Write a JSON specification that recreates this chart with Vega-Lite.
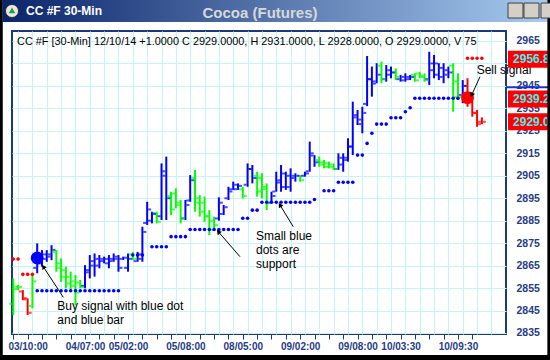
{
  "$schema": "https://vega.github.io/schema/vega-lite/v6.json",
  "width": 494,
  "height": 303,
  "autosize": {"type": "none"},
  "padding": {"left": 12, "top": 31, "right": 44, "bottom": 26},
  "background": "white",
  "config": {"view": {"stroke": "#1C3A7A", "strokeWidth": 2, "fill": "white"}, "font": "Liberation Sans"},
  "resolve": {"axis": {"x": "independent", "y": "independent"}},
  "datasets": {
    "bars": [
      {"i":0,"open":2848,"high":2859.3,"low":2843.0,"close":2855.6,"trend":"pullback"},
      {"i":1,"open":2854.5,"high":2856.4,"low":2854.1,"close":2855.5,"trend":"pullback"},
      {"i":2,"open":2853.5,"high":2854.1,"low":2849.6,"close":2850.5,"trend":"down"},
      {"i":3,"open":2850,"high":2850.4,"low":2843.0,"close":2844,"trend":"down"},
      {"i":4,"open":2847,"high":2860.8,"low":2846.0,"close":2858,"trend":"pullback"},
      {"i":5,"open":2864,"high":2874.9,"low":2861.6,"close":2870,"trend":"up"},
      {"i":6,"open":2866,"high":2871.9,"low":2864.5,"close":2870,"trend":"up"},
      {"i":7,"open":2868,"high":2871.9,"low":2866.7,"close":2870,"trend":"up"},
      {"i":8,"open":2869,"high":2874.1,"low":2867.4,"close":2872,"trend":"up"},
      {"i":9,"open":2871,"high":2871.9,"low":2862.3,"close":2864,"trend":"pullback"},
      {"i":10,"open":2866,"high":2868.2,"low":2857.8,"close":2860,"trend":"pullback"},
      {"i":11,"open":2863,"high":2864.5,"low":2854.9,"close":2857,"trend":"pullback"},
      {"i":12,"open":2860,"high":2862.3,"low":2854.1,"close":2856,"trend":"pullback"},
      {"i":13,"open":2858,"high":2860.8,"low":2847.4,"close":2853,"trend":"pullback"},
      {"i":14,"open":2857.5,"high":2858.6,"low":2854.9,"close":2855.5,"trend":"pullback"},
      {"i":15,"open":2856,"high":2865.2,"low":2854.9,"close":2863,"trend":"up"},
      {"i":16,"open":2862,"high":2869.7,"low":2859.3,"close":2867,"trend":"up"},
      {"i":17,"open":2865,"high":2870.4,"low":2860.1,"close":2868,"trend":"up"},
      {"i":18,"open":2865,"high":2869.7,"low":2863.8,"close":2868,"trend":"up"},
      {"i":19,"open":2867,"high":2869.0,"low":2866.0,"close":2868,"trend":"up"},
      {"i":20,"open":2866,"high":2869.7,"low":2863.8,"close":2868,"trend":"up"},
      {"i":21,"open":2867,"high":2870.4,"low":2866.7,"close":2869,"trend":"up"},
      {"i":22,"open":2868,"high":2869.7,"low":2862.3,"close":2864,"trend":"up"},
      {"i":23,"open":2868,"high":2869.0,"low":2867.5,"close":2868.5,"trend":"up"},
      {"i":24,"open":2864,"high":2870.4,"low":2862.3,"close":2868,"trend":"up"},
      {"i":25,"open":2870,"high":2871.1,"low":2867.5,"close":2868,"trend":"pullback"},
      {"i":26,"open":2867,"high":2871.1,"low":2866.7,"close":2870,"trend":"up"},
      {"i":27,"open":2868,"high":2882.3,"low":2866.7,"close":2880,"trend":"up"},
      {"i":28,"open":2884,"high":2893.4,"low":2883.1,"close":2890,"trend":"up"},
      {"i":29,"open":2885,"high":2889.0,"low":2883.8,"close":2888,"trend":"up"},
      {"i":30,"open":2888.5,"high":2889.0,"low":2883.8,"close":2884.5,"trend":"pullback"},
      {"i":31,"open":2887,"high":2910.5,"low":2885.3,"close":2905,"trend":"up"},
      {"i":32,"open":2907,"high":2913.5,"low":2885.3,"close":2895,"trend":"up"},
      {"i":33,"open":2896,"high":2897.9,"low":2887.5,"close":2890,"trend":"pullback"},
      {"i":34,"open":2897,"high":2899.4,"low":2890.5,"close":2893,"trend":"pullback"},
      {"i":35,"open":2892,"high":2894.2,"low":2883.8,"close":2886,"trend":"pullback"},
      {"i":36,"open":2886,"high":2894.2,"low":2885.3,"close":2892,"trend":"up"},
      {"i":37,"open":2894,"high":2905.3,"low":2893.4,"close":2903,"trend":"up"},
      {"i":38,"open":2904,"high":2907.6,"low":2889.0,"close":2893,"trend":"pullback"},
      {"i":39,"open":2895,"high":2896.4,"low":2886.8,"close":2889,"trend":"pullback"},
      {"i":40,"open":2893,"high":2895.7,"low":2884.5,"close":2887,"trend":"pullback"},
      {"i":41,"open":2887,"high":2889.7,"low":2878.6,"close":2881,"trend":"pullback"},
      {"i":42,"open":2885,"high":2886.8,"low":2881.6,"close":2883,"trend":"pullback"},
      {"i":43,"open":2886,"high":2895.4,"low":2885.0,"close":2893,"trend":"up"},
      {"i":44,"open":2888,"high":2892.0,"low":2887.5,"close":2891,"trend":"up"},
      {"i":45,"open":2895,"high":2900.1,"low":2894.2,"close":2898,"trend":"up"},
      {"i":46,"open":2899,"high":2902.4,"low":2898.7,"close":2901,"trend":"up"},
      {"i":47,"open":2899,"high":2901.6,"low":2898.7,"close":2900.5,"trend":"up"},
      {"i":48,"open":2899,"high":2900.1,"low":2894.9,"close":2896,"trend":"pullback"},
      {"i":49,"open":2901,"high":2910.5,"low":2900.1,"close":2908,"trend":"up"},
      {"i":50,"open":2908,"high":2909.8,"low":2901.6,"close":2904,"trend":"up"},
      {"i":51,"open":2905,"high":2906.8,"low":2895.7,"close":2898,"trend":"pullback"},
      {"i":52,"open":2904,"high":2906.1,"low":2894.9,"close":2900,"trend":"pullback"},
      {"i":53,"open":2899,"high":2901.6,"low":2889.7,"close":2893,"trend":"pullback"},
      {"i":54,"open":2893,"high":2897.9,"low":2892.7,"close":2896,"trend":"up"},
      {"i":55,"open":2898,"high":2906.8,"low":2897.9,"close":2903,"trend":"up"},
      {"i":56,"open":2902,"high":2909.8,"low":2897.9,"close":2906,"trend":"up"},
      {"i":57,"open":2900,"high":2906.8,"low":2898.7,"close":2905,"trend":"up"},
      {"i":58,"open":2900,"high":2908.3,"low":2897.9,"close":2905,"trend":"up"},
      {"i":59,"open":2904,"high":2906.1,"low":2902.4,"close":2905,"trend":"up"},
      {"i":60,"open":2905,"high":2905.3,"low":2902.4,"close":2903,"trend":"pullback"},
      {"i":61,"open":2905,"high":2906.8,"low":2904.6,"close":2906,"trend":"up"},
      {"i":62,"open":2907,"high":2920.2,"low":2906.8,"close":2915,"trend":"up"},
      {"i":63,"open":2914,"high":2914.2,"low":2909.0,"close":2911,"trend":"up"},
      {"i":64,"open":2912,"high":2913.5,"low":2909.0,"close":2910,"trend":"pullback"},
      {"i":65,"open":2911,"high":2912.0,"low":2908.3,"close":2909,"trend":"pullback"},
      {"i":66,"open":2910.5,"high":2911.3,"low":2908.3,"close":2909,"trend":"pullback"},
      {"i":67,"open":2910,"high":2910.5,"low":2907.6,"close":2908,"trend":"pullback"},
      {"i":68,"open":2908,"high":2915.0,"low":2907.6,"close":2913,"trend":"up"},
      {"i":69,"open":2910,"high":2915.0,"low":2906.8,"close":2912,"trend":"up"},
      {"i":70,"open":2913,"high":2921.7,"low":2911.3,"close":2918,"trend":"up"},
      {"i":71,"open":2918,"high":2938.0,"low":2914.2,"close":2932,"trend":"up"},
      {"i":72,"open":2931,"high":2934.3,"low":2927.6,"close":2930,"trend":"up"},
      {"i":73,"open":2928,"high":2935.7,"low":2923.9,"close":2933,"trend":"up"},
      {"i":74,"open":2937,"high":2958.3,"low":2936.0,"close":2948,"trend":"up"},
      {"i":75,"open":2948,"high":2953.6,"low":2940.2,"close":2946,"trend":"up"},
      {"i":76,"open":2947,"high":2955.1,"low":2946.2,"close":2950,"trend":"up"},
      {"i":77,"open":2954,"high":2955.8,"low":2946.2,"close":2948,"trend":"pullback"},
      {"i":78,"open":2948,"high":2954.3,"low":2946.9,"close":2952,"trend":"up"},
      {"i":79,"open":2950,"high":2953.6,"low":2948.4,"close":2951,"trend":"up"},
      {"i":80,"open":2951,"high":2952.8,"low":2947.6,"close":2949,"trend":"pullback"},
      {"i":81,"open":2948,"high":2949.9,"low":2946.9,"close":2949,"trend":"up"},
      {"i":82,"open":2947.5,"high":2950.6,"low":2946.9,"close":2949,"trend":"up"},
      {"i":83,"open":2948,"high":2949.9,"low":2947.6,"close":2949,"trend":"up"},
      {"i":84,"open":2950,"high":2950.6,"low":2946.9,"close":2947.5,"trend":"pullback"},
      {"i":85,"open":2950.5,"high":2951.3,"low":2948.4,"close":2949,"trend":"pullback"},
      {"i":86,"open":2949.5,"high":2950.6,"low":2946.9,"close":2947.5,"trend":"pullback"},
      {"i":87,"open":2948,"high":2960.2,"low":2945.4,"close":2955,"trend":"up"},
      {"i":88,"open":2952,"high":2958.8,"low":2948.4,"close":2955,"trend":"up"},
      {"i":89,"open":2950,"high":2955.1,"low":2947.6,"close":2953,"trend":"up"},
      {"i":90,"open":2949,"high":2955.1,"low":2946.2,"close":2952,"trend":"up"},
      {"i":91,"open":2950,"high":2953.6,"low":2948.4,"close":2951,"trend":"up"},
      {"i":92,"open":2954,"high":2955.1,"low":2933.5,"close":2940,"trend":"pullback"},
      {"i":93,"open":2947,"high":2950.6,"low":2938.7,"close":2940,"trend":"pullback"},
      {"i":94,"open":2941,"high":2947.6,"low":2937.3,"close":2945,"trend":"up"},
      {"i":95,"open":2945,"high":2948.4,"low":2935.7,"close":2938,"trend":"down"},
      {"i":96,"open":2938,"high":2941.7,"low":2931.3,"close":2933,"trend":"down"},
      {"i":97,"open":2933,"high":2934.3,"low":2926.8,"close":2928,"trend":"down"},
      {"i":98,"open":2929,"high":2931,"low":2928,"close":2929,"trend":"down"}
    ],
    "dots": [
      {"i":0,"level":2867.9,"kind":"resistance"},{"i":1,"level":2867.9,"kind":"resistance"},
      {"i":2,"level":2861.1,"kind":"resistance"},{"i":3,"level":2861.1,"kind":"resistance"},{"i":4,"level":2861.1,"kind":"resistance"},
      {"i":5,"level":2853.8,"kind":"support"},{"i":6,"level":2853.8,"kind":"support"},{"i":7,"level":2853.8,"kind":"support"},{"i":8,"level":2853.8,"kind":"support"},{"i":9,"level":2853.8,"kind":"support"},{"i":10,"level":2853.8,"kind":"support"},{"i":11,"level":2853.8,"kind":"support"},{"i":12,"level":2853.8,"kind":"support"},{"i":13,"level":2853.8,"kind":"support"},{"i":14,"level":2853.8,"kind":"support"},{"i":15,"level":2853.8,"kind":"support"},{"i":16,"level":2853.8,"kind":"support"},{"i":17,"level":2853.8,"kind":"support"},{"i":18,"level":2853.8,"kind":"support"},{"i":19,"level":2853.8,"kind":"support"},{"i":20,"level":2853.8,"kind":"support"},{"i":21,"level":2853.8,"kind":"support"},{"i":22,"level":2853.8,"kind":"support"},
      {"i":25,"level":2869.7,"kind":"support"},{"i":26,"level":2869.7,"kind":"support"},{"i":27,"level":2869.7,"kind":"support"},
      {"i":29,"level":2873.4,"kind":"support"},{"i":30,"level":2873.4,"kind":"support"},{"i":31,"level":2873.4,"kind":"support"},{"i":32,"level":2873.4,"kind":"support"},
      {"i":33,"level":2877.9,"kind":"support"},{"i":34,"level":2877.9,"kind":"support"},{"i":35,"level":2877.9,"kind":"support"},{"i":36,"level":2877.9,"kind":"support"},
      {"i":37,"level":2881.1,"kind":"support"},{"i":38,"level":2881.1,"kind":"support"},{"i":39,"level":2881.1,"kind":"support"},{"i":40,"level":2881.1,"kind":"support"},{"i":41,"level":2881.1,"kind":"support"},{"i":42,"level":2881.1,"kind":"support"},{"i":43,"level":2881.1,"kind":"support"},{"i":44,"level":2881.1,"kind":"support"},{"i":45,"level":2881.1,"kind":"support"},{"i":46,"level":2881.1,"kind":"support"},{"i":47,"level":2881.1,"kind":"support"},
      {"i":48,"level":2886.1,"kind":"support"},{"i":49,"level":2886.1,"kind":"support"},
      {"i":50,"level":2889.7,"kind":"support"},{"i":51,"level":2889.7,"kind":"support"},
      {"i":52,"level":2893.2,"kind":"support"},{"i":53,"level":2893.2,"kind":"support"},{"i":54,"level":2893.2,"kind":"support"},{"i":55,"level":2893.2,"kind":"support"},{"i":56,"level":2893.2,"kind":"support"},{"i":57,"level":2893.2,"kind":"support"},{"i":58,"level":2893.2,"kind":"support"},{"i":59,"level":2893.2,"kind":"support"},{"i":60,"level":2893.2,"kind":"support"},{"i":61,"level":2893.2,"kind":"support"},{"i":62,"level":2893.2,"kind":"support"},
      {"i":63,"level":2894.4,"kind":"support"},
      {"i":65,"level":2898.3,"kind":"support"},{"i":66,"level":2898.3,"kind":"support"},{"i":67,"level":2898.3,"kind":"support"},
      {"i":68,"level":2902.1,"kind":"support"},{"i":69,"level":2902.1,"kind":"support"},{"i":70,"level":2902.1,"kind":"support"},{"i":71,"level":2902.1,"kind":"support"},
      {"i":72,"level":2914.2,"kind":"support"},{"i":73,"level":2914.2,"kind":"support"},
      {"i":74,"level":2919.4,"kind":"support"},
      {"i":75,"level":2923.9,"kind":"support"},
      {"i":76,"level":2928.0,"kind":"support"},{"i":77,"level":2928.0,"kind":"support"},{"i":78,"level":2928.0,"kind":"support"},
      {"i":79,"level":2930.8,"kind":"support"},{"i":80,"level":2930.8,"kind":"support"},{"i":81,"level":2930.8,"kind":"support"},
      {"i":82,"level":2933.5,"kind":"support"},
      {"i":83,"level":2935.3,"kind":"support"},
      {"i":84,"level":2939.5,"kind":"support"},{"i":85,"level":2939.5,"kind":"support"},{"i":86,"level":2939.5,"kind":"support"},{"i":87,"level":2939.5,"kind":"support"},{"i":88,"level":2939.5,"kind":"support"},{"i":89,"level":2939.5,"kind":"support"},{"i":90,"level":2939.5,"kind":"support"},{"i":91,"level":2939.5,"kind":"support"},{"i":92,"level":2939.5,"kind":"support"},{"i":93,"level":2939.5,"kind":"support"},
      {"i":95,"level":2957.3,"kind":"resistance"},{"i":96,"level":2957.3,"kind":"resistance"},{"i":97,"level":2957.3,"kind":"resistance"},{"i":98,"level":2957.3,"kind":"resistance"}
    ],
    "signals": [
      {"i":5,"level":2868.4,"signal":"buy"},
      {"i":95,"level":2939.8,"signal":"sell"}
    ],
    "prices": [
      {"price":2956.82},{"price":2939.21},{"price":2929.00}
    ]
  },
  "layer": [
    {
      "data": {"values": [{}]},
      "mark": {"type": "rect", "fill": {"gradient": "linear", "stops": [{"offset": 0, "color": "#0A246A"}, {"offset": 1, "color": "#A6CAF0"}]}, "clip": false},
      "encoding": {
        "x": {"datum": -2.2, "type": "quantitative", "scale": {"domain": [-0.27, 103.05], "nice": false, "zero": false}, "axis": null},
        "x2": {"datum": 111.7},
        "y": {"datum": 2973.45, "type": "quantitative", "scale": {"domain": [2834.55, 2969.45], "nice": false, "zero": false}, "axis": null},
        "y2": {"datum": 2984.5}
      }
    },
    {
      "data": {"name": "bars"},
      "mark": {"type": "rule", "strokeWidth": 2},
      "encoding": {
        "x": {"field": "i", "type": "quantitative", "scale": {"domain": [-0.27, 103.05], "nice": false, "zero": false},
          "axis": {"orient": "bottom", "title": null, "values": [0,3,6,9,12,15,18,21,24,27,30,33,36,39,42,45,48,51,54,57,60,63,66,69,72,75,78,81,84,87,90,93,96], "grid": false, "domain": false, "tickSize": 5, "tickColor": "#1C3A7A", "tickWidth": 1, "labelPadding": 2, "labelFont": "Liberation Sans", "labelFontSize": 10, "labelFontWeight": "bold", "labelColor": "#1F3C88", "labelOverlap": false, "labelFlush": false,
            "labelExpr": "datum.value == 3 ? '03/10:00' : datum.value == 15 ? '04/07:00' : datum.value == 24 ? '05/02:00' : datum.value == 36 ? '05/08:00' : datum.value == 48 ? '08/05:00' : datum.value == 60 ? '09/02:00' : datum.value == 72 ? '09/08:00' : datum.value == 81 ? '10/03:30' : datum.value == 93 ? '10/09:30' : ''"}},
        "y": {"field": "low", "type": "quantitative", "scale": {"domain": [2834.55, 2969.45], "nice": false, "zero": false},
          "axis": {"orient": "right", "title": null, "format": "d", "values": [2835,2845,2855,2865,2875,2885,2895,2905,2915,2925,2935,2945,2955,2965], "labelExpr": "datum.value == 2955 ? '' : datum.label", "ticks": false, "domain": false, "labelPadding": 10, "labelFont": "Liberation Sans", "labelFontSize": 10.5, "labelFontWeight": "bold", "labelColor": "#1F3C88", "labelOverlap": false, "labelFlush": false, "grid": true, "gridColor": "#C4F4F4", "gridWidth": 1}},
        "y2": {"field": "high"},
        "color": {"field": "trend", "type": "nominal", "scale": {"domain": ["up","pullback","down","support","resistance","buy","sell"], "range": ["#0000FF","#00FF00","#FF0000","#0000FF","#FF0000","#0000FF","#FF0000"]}, "legend": null}
      }
    },
    {
      "data": {"name": "bars"},
      "mark": {"type": "tick", "orient": "horizontal", "size": 3, "thickness": 2, "xOffset": -2.5},
      "encoding": {
        "x": {"field": "i", "type": "quantitative", "scale": {"domain": [-0.27, 103.05], "nice": false, "zero": false},
          "axis": {"orient": "bottom", "title": null, "values": [1,4,7,10,13,16,19,22,25,28,31,34,37,40,43,46,49,52,55,58,61,64,67,70,73,76,79,82,85,88,91,94,97,100], "grid": true, "gridColor": "#C4F4F4", "gridWidth": 1, "ticks": false, "labels": false, "domain": false}},
        "y": {"field": "open", "type": "quantitative", "scale": {"domain": [2834.55, 2969.45], "nice": false, "zero": false}, "axis": null},
        "color": {"field": "trend", "type": "nominal", "scale": {"domain": ["up","pullback","down","support","resistance","buy","sell"], "range": ["#0000FF","#00FF00","#FF0000","#0000FF","#FF0000","#0000FF","#FF0000"]}, "legend": null}
      }
    },
    {
      "data": {"name": "bars"},
      "mark": {"type": "tick", "orient": "horizontal", "size": 3, "thickness": 2, "xOffset": 2.5},
      "encoding": {
        "x": {"field": "i", "type": "quantitative", "scale": {"domain": [-0.27, 103.05], "nice": false, "zero": false}, "axis": null},
        "y": {"field": "close", "type": "quantitative", "scale": {"domain": [2834.55, 2969.45], "nice": false, "zero": false}, "axis": null},
        "color": {"field": "trend", "type": "nominal", "scale": {"domain": ["up","pullback","down","support","resistance","buy","sell"], "range": ["#0000FF","#00FF00","#FF0000","#0000FF","#FF0000","#0000FF","#FF0000"]}, "legend": null}
      }
    },
    {
      "data": {"name": "dots"},
      "mark": {"type": "circle", "size": 13, "opacity": 1},
      "encoding": {
        "x": {"field": "i", "type": "quantitative", "scale": {"domain": [-0.27, 103.05], "nice": false, "zero": false}, "axis": null},
        "y": {"field": "level", "type": "quantitative", "scale": {"domain": [2834.55, 2969.45], "nice": false, "zero": false}, "axis": null},
        "color": {"field": "kind", "type": "nominal", "scale": {"domain": ["up","pullback","down","support","resistance","buy","sell"], "range": ["#0000FF","#00FF00","#FF0000","#0000FF","#FF0000","#0000FF","#FF0000"]}, "legend": null}
      }
    },
    {
      "data": {"name": "signals"},
      "mark": {"type": "circle", "size": 165, "opacity": 1},
      "encoding": {
        "x": {"field": "i", "type": "quantitative", "scale": {"domain": [-0.27, 103.05], "nice": false, "zero": false}, "axis": null},
        "y": {"field": "level", "type": "quantitative", "scale": {"domain": [2834.55, 2969.45], "nice": false, "zero": false}, "axis": null},
        "color": {"field": "signal", "type": "nominal", "scale": {"domain": ["up","pullback","down","support","resistance","buy","sell"], "range": ["#0000FF","#00FF00","#FF0000","#0000FF","#FF0000","#0000FF","#FF0000"]}, "legend": null}
      }
    },
    {
      "data": {"values": [{}]},
      "mark": {"type": "text", "text": "CC #F [30-Min] 12/10/14  +1.0000 C 2929.0000, H 2931.0000, L 2928.0000, O 2929.0000, V 75", "align": "left", "baseline": "middle", "fontSize": 10.9, "color": "#000000", "font": "Liberation Sans"},
      "encoding": {
        "x": {"datum": 0.78, "type": "quantitative", "scale": {"domain": [-0.27, 103.05], "nice": false, "zero": false}, "axis": null},
        "y": {"datum": 2964.55, "type": "quantitative", "scale": {"domain": [2834.55, 2969.45], "nice": false, "zero": false}, "axis": null}
      }
    },
    {
      "data": {"values": [{}]},
      "mark": {"type": "rule", "color": "#000000", "strokeWidth": 1},
      "encoding": {
        "x": {"datum": 10.46, "type": "quantitative", "scale": {"domain": [-0.27, 103.05], "nice": false, "zero": false}, "axis": null},
        "x2": {"datum": 6.28},
        "y": {"datum": 2850.88, "type": "quantitative", "scale": {"domain": [2834.55, 2969.45], "nice": false, "zero": false}, "axis": null},
        "y2": {"datum": 2864.5}
      }
    },
    {
      "data": {"values": [{}]},
      "mark": {"type": "point", "shape": "triangle-up", "filled": true, "size": 28, "color": "#000000", "opacity": 1, "angle": 327},
      "encoding": {
        "x": {"datum": 6.28, "type": "quantitative", "scale": {"domain": [-0.27, 103.05], "nice": false, "zero": false}, "axis": null},
        "y": {"datum": 2864.5, "type": "quantitative", "scale": {"domain": [2834.55, 2969.45], "nice": false, "zero": false}, "axis": null}
      }
    },
    {
      "data": {"values": [{}]},
      "mark": {"type": "rule", "color": "#000000", "strokeWidth": 1},
      "encoding": {
        "x": {"datum": 47.42, "type": "quantitative", "scale": {"domain": [-0.27, 103.05], "nice": false, "zero": false}, "axis": null},
        "x2": {"datum": 42.88},
        "y": {"datum": 2868.96, "type": "quantitative", "scale": {"domain": [2834.55, 2969.45], "nice": false, "zero": false}, "axis": null},
        "y2": {"datum": 2880.09}
      }
    },
    {
      "data": {"values": [{}]},
      "mark": {"type": "point", "shape": "triangle-up", "filled": true, "size": 28, "color": "#000000", "opacity": 1, "angle": 319},
      "encoding": {
        "x": {"datum": 42.88, "type": "quantitative", "scale": {"domain": [-0.27, 103.05], "nice": false, "zero": false}, "axis": null},
        "y": {"datum": 2880.09, "type": "quantitative", "scale": {"domain": [2834.55, 2969.45], "nice": false, "zero": false}, "axis": null}
      }
    },
    {
      "data": {"values": [{}]},
      "mark": {"type": "rule", "color": "#000000", "strokeWidth": 1},
      "encoding": {
        "x": {"datum": 58.56, "type": "quantitative", "scale": {"domain": [-0.27, 103.05], "nice": false, "zero": false}, "axis": null},
        "x2": {"datum": 55.78},
        "y": {"datum": 2882.31, "type": "quantitative", "scale": {"domain": [2834.55, 2969.45], "nice": false, "zero": false}, "axis": null},
        "y2": {"datum": 2891.97}
      }
    },
    {
      "data": {"values": [{}]},
      "mark": {"type": "point", "shape": "triangle-up", "filled": true, "size": 28, "color": "#000000", "opacity": 1, "angle": 328},
      "encoding": {
        "x": {"datum": 55.78, "type": "quantitative", "scale": {"domain": [-0.27, 103.05], "nice": false, "zero": false}, "axis": null},
        "y": {"datum": 2891.97, "type": "quantitative", "scale": {"domain": [2834.55, 2969.45], "nice": false, "zero": false}, "axis": null}
      }
    },
    {
      "data": {"values": [{}]},
      "mark": {"type": "rule", "color": "#000000", "strokeWidth": 1},
      "encoding": {
        "x": {"datum": 97.61, "type": "quantitative", "scale": {"domain": [-0.27, 103.05], "nice": false, "zero": false}, "axis": null},
        "x2": {"datum": 95.88},
        "y": {"datum": 2949.1, "type": "quantitative", "scale": {"domain": [2834.55, 2969.45], "nice": false, "zero": false}, "axis": null},
        "y2": {"datum": 2940.95}
      }
    },
    {
      "data": {"values": [{}]},
      "mark": {"type": "point", "shape": "triangle-up", "filled": true, "size": 28, "color": "#000000", "opacity": 1, "angle": 204},
      "encoding": {
        "x": {"datum": 95.88, "type": "quantitative", "scale": {"domain": [-0.27, 103.05], "nice": false, "zero": false}, "axis": null},
        "y": {"datum": 2940.95, "type": "quantitative", "scale": {"domain": [2834.55, 2969.45], "nice": false, "zero": false}, "axis": null}
      }
    },
    {
      "data": {"values": [{}]},
      "mark": {"type": "text", "text": ["Buy signal with blue dot", "and blue bar"], "align": "left", "baseline": "top", "fontSize": 12, "lineHeight": 14, "color": "#000000", "font": "Liberation Sans"},
      "encoding": {
        "x": {"datum": 9.2, "type": "quantitative", "scale": {"domain": [-0.27, 103.05], "nice": false, "zero": false}, "axis": null},
        "y": {"datum": 2849.2, "type": "quantitative", "scale": {"domain": [2834.55, 2969.45], "nice": false, "zero": false}, "axis": null}
      }
    },
    {
      "data": {"values": [{}]},
      "mark": {"type": "text", "text": ["Small blue", "dots are", "support"], "align": "left", "baseline": "top", "fontSize": 12, "lineHeight": 14, "color": "#000000", "font": "Liberation Sans"},
      "encoding": {
        "x": {"datum": 50.76, "type": "quantitative", "scale": {"domain": [-0.27, 103.05], "nice": false, "zero": false}, "axis": null},
        "y": {"datum": 2880.4, "type": "quantitative", "scale": {"domain": [2834.55, 2969.45], "nice": false, "zero": false}, "axis": null}
      }
    },
    {
      "data": {"values": [{}]},
      "mark": {"type": "text", "text": "Sell signal", "align": "left", "baseline": "top", "fontSize": 12, "color": "#000000", "font": "Liberation Sans", "clip": false},
      "encoding": {
        "x": {"datum": 96.92, "type": "quantitative", "scale": {"domain": [-0.27, 103.05], "nice": false, "zero": false}, "axis": null},
        "y": {"datum": 2954.3, "type": "quantitative", "scale": {"domain": [2834.55, 2969.45], "nice": false, "zero": false}, "axis": null}
      }
    },
    {
      "data": {"values": [{}]},
      "mark": {"type": "rule", "color": "#1035D0", "strokeWidth": 2, "clip": false},
      "encoding": {
        "x": {"datum": 103.05, "type": "quantitative", "scale": {"domain": [-0.27, 103.05], "nice": false, "zero": false}, "axis": null},
        "x2": {"datum": 112.3},
        "y": {"datum": 2944.4, "type": "quantitative", "scale": {"domain": [2834.55, 2969.45], "nice": false, "zero": false}, "axis": null}
      }
    },
    {
      "data": {"name": "prices"},
      "mark": {"type": "tick", "orient": "horizontal", "size": 46, "thickness": 17, "color": "#FF0000", "opacity": 1, "clip": false},
      "encoding": {
        "x": {"datum": 108.28, "type": "quantitative", "scale": {"domain": [-0.27, 103.05], "nice": false, "zero": false}, "axis": null},
        "y": {"field": "price", "type": "quantitative", "scale": {"domain": [2834.55, 2969.45], "nice": false, "zero": false}, "axis": null}
      }
    },
    {
      "data": {"name": "prices"},
      "mark": {"type": "text", "align": "left", "baseline": "middle", "fontSize": 12, "fontWeight": "bold", "color": "#40F0F0", "font": "Liberation Sans", "clip": false},
      "encoding": {
        "x": {"datum": 104.52, "type": "quantitative", "scale": {"domain": [-0.27, 103.05], "nice": false, "zero": false}, "axis": null},
        "y": {"field": "price", "type": "quantitative", "scale": {"domain": [2834.55, 2969.45], "nice": false, "zero": false}, "axis": null},
        "text": {"field": "price", "type": "quantitative", "format": ".2f"}
      }
    },
    {
      "data": {"values": [{}]},
      "mark": {"type": "rect", "color": "#000000", "clip": false},
      "encoding": {
        "x": {"datum": -3, "type": "quantitative", "scale": {"domain": [-0.27, 103.05], "nice": false, "zero": false}, "axis": null},
        "x2": {"datum": -2.2},
        "y": {"datum": 2815, "type": "quantitative", "scale": {"domain": [2834.55, 2969.45], "nice": false, "zero": false}, "axis": null},
        "y2": {"datum": 2985}
      }
    },
    {
      "data": {"values": [{}]},
      "mark": {"type": "rect", "color": "#000000", "clip": false},
      "encoding": {
        "x": {"datum": 111.7, "type": "quantitative", "scale": {"domain": [-0.27, 103.05], "nice": false, "zero": false}, "axis": null},
        "x2": {"datum": 114},
        "y": {"datum": 2815, "type": "quantitative", "scale": {"domain": [2834.55, 2969.45], "nice": false, "zero": false}, "axis": null},
        "y2": {"datum": 2985}
      }
    },
    {
      "data": {"values": [{}]},
      "mark": {"type": "rect", "color": "#000000", "clip": false},
      "encoding": {
        "x": {"datum": -3, "type": "quantitative", "scale": {"domain": [-0.27, 103.05], "nice": false, "zero": false}, "axis": null},
        "x2": {"datum": 114},
        "y": {"datum": 2815, "type": "quantitative", "scale": {"domain": [2834.55, 2969.45], "nice": false, "zero": false}, "axis": null},
        "y2": {"datum": 2825.2}
      }
    },
    {
      "data": {"values": [{}]},
      "mark": {"type": "rect", "fill": "#D4D0C8", "stroke": "#404040", "strokeWidth": 1, "clip": false},
      "encoding": {
        "x": {"datum": 103.47, "type": "quantitative", "scale": {"domain": [-0.27, 103.05], "nice": false, "zero": false}, "axis": null},
        "x2": {"datum": 106.6},
        "y": {"datum": 2975.23, "type": "quantitative", "scale": {"domain": [2834.55, 2969.45], "nice": false, "zero": false}, "axis": null},
        "y2": {"datum": 2981.9}
      }
    },
    {
      "data": {"values": [{}]},
      "mark": {"type": "rect", "fill": "#D4D0C8", "stroke": "#404040", "strokeWidth": 1, "clip": false},
      "encoding": {
        "x": {"datum": 106.81, "type": "quantitative", "scale": {"domain": [-0.27, 103.05], "nice": false, "zero": false}, "axis": null},
        "x2": {"datum": 109.95},
        "y": {"datum": 2975.23, "type": "quantitative", "scale": {"domain": [2834.55, 2969.45], "nice": false, "zero": false}, "axis": null},
        "y2": {"datum": 2981.9}
      }
    },
    {
      "data": {"values": [{}]},
      "mark": {"type": "rect", "fill": "#D4D0C8", "stroke": "#404040", "strokeWidth": 1, "clip": false},
      "encoding": {
        "x": {"datum": 110.37, "type": "quantitative", "scale": {"domain": [-0.27, 103.05], "nice": false, "zero": false}, "axis": null},
        "x2": {"datum": 113.7},
        "y": {"datum": 2975.23, "type": "quantitative", "scale": {"domain": [2834.55, 2969.45], "nice": false, "zero": false}, "axis": null},
        "y2": {"datum": 2981.9}
      }
    },
    {
      "data": {"values": [{}]},
      "mark": {"type": "text", "text": "CC #F 30-Min", "align": "left", "baseline": "middle", "fontSize": 12, "fontWeight": "bold", "color": "#FFFFFF", "font": "Liberation Sans", "clip": false},
      "encoding": {
        "x": {"datum": 2.66, "type": "quantitative", "scale": {"domain": [-0.27, 103.05], "nice": false, "zero": false}, "axis": null},
        "y": {"datum": 2978.35, "type": "quantitative", "scale": {"domain": [2834.55, 2969.45], "nice": false, "zero": false}, "axis": null}
      }
    },
    {
      "data": {"values": [{}]},
      "mark": {"type": "text", "text": "Cocoa (Futures)", "align": "center", "baseline": "middle", "fontSize": 15, "fontWeight": "bold", "color": "#D8D8D8", "font": "Liberation Sans", "clip": false},
      "encoding": {
        "x": {"datum": 51.6, "type": "quantitative", "scale": {"domain": [-0.27, 103.05], "nice": false, "zero": false}, "axis": null},
        "y": {"datum": 2977.46, "type": "quantitative", "scale": {"domain": [2834.55, 2969.45], "nice": false, "zero": false}, "axis": null}
      }
    },
    {
      "data": {"values": [{}]},
      "mark": {"type": "point", "shape": "circle", "filled": true, "size": 170, "fill": "#E8E8E8", "stroke": "#303030", "strokeWidth": 1, "opacity": 1, "clip": false},
      "encoding": {
        "x": {"datum": -0.27, "type": "quantitative", "scale": {"domain": [-0.27, 103.05], "nice": false, "zero": false}, "axis": null},
        "y": {"datum": 2978.35, "type": "quantitative", "scale": {"domain": [2834.55, 2969.45], "nice": false, "zero": false}, "axis": null}
      }
    },
    {
      "data": {"values": [{}]},
      "mark": {"type": "point", "shape": "triangle-up", "filled": true, "size": 45, "color": "#2E9E2E", "opacity": 1, "clip": false},
      "encoding": {
        "x": {"datum": -0.27, "type": "quantitative", "scale": {"domain": [-0.27, 103.05], "nice": false, "zero": false}, "axis": null},
        "y": {"datum": 2978.6, "type": "quantitative", "scale": {"domain": [2834.55, 2969.45], "nice": false, "zero": false}, "axis": null}
      }
    }
  ]
}
